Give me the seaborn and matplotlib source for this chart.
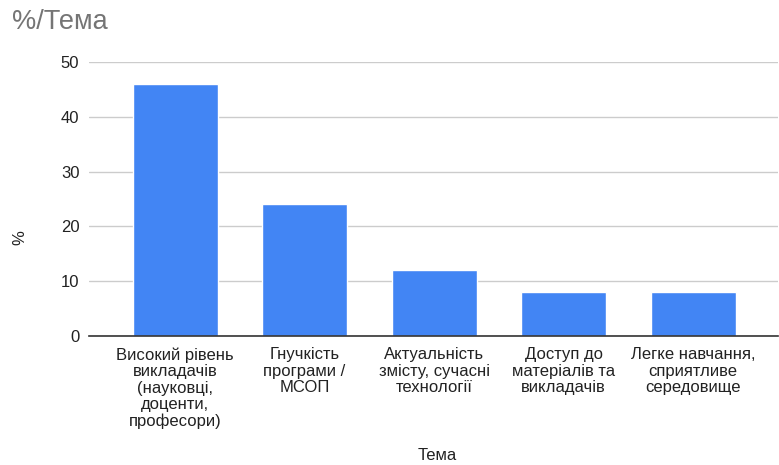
import pandas as pd
import matplotlib.pyplot as plt
import seaborn as sns

# chart data
topics = [
    "Високий рівень\nвикладачів\n(науковці,\nдоценти,\nпрофесори)",
    "Гнучкість\nпрограми /\nМСОП",
    "Актуальність\nзмісту, сучасні\nтехнології",
    "Доступ до\nматеріалів та\nвикладачів",
    "Легке навчання,\nсприятливе\nсередовище",
]
percent = [46, 24, 12, 8, 8]
y_ticks = [0, 10, 20, 30, 40, 50]

df = pd.DataFrame({"Тема": topics, "%": percent})

sns.set_style("white")
plt.rcParams["font.family"] = ["Liberation Sans", "DejaVu Sans"]

fig = plt.figure(figsize=(7.79, 4.65), dpi=100)
ax = fig.add_axes([0.1143, 0.2774, 0.8844, 0.5893])

sns.barplot(data=df, x="Тема", y="%", color="#4285F4", width=0.656,
            saturation=1, ax=ax, zorder=3)

ax.set_xlim(-0.664, 4.656)
ax.set_ylim(0, 50)
ax.set_yticks(y_ticks)
ax.yaxis.grid(True, color="#cccccc", linewidth=1, zorder=0)
ax.set_axisbelow(True)
for s in ["top", "right", "left"]:
    ax.spines[s].set_visible(False)
ax.spines["bottom"].set_color("#333333")
ax.spines["bottom"].set_linewidth(1.2)
ax.spines["bottom"].set_zorder(4)

ax.tick_params(axis="both", length=0, labelsize=12, labelcolor="#222222")
ax.tick_params(axis="x", pad=8)
ax.tick_params(axis="y", pad=7)
for lbl in ax.get_xticklabels():
    lbl.set_linespacing(1.13)
    lbl.set_verticalalignment("top")

ax.set_xlabel("Тема", fontsize=12, color="#222222")
ax.xaxis.set_label_coords(0.505, -0.41)
ax.set_ylabel("%", fontsize=12, color="#222222")
ax.yaxis.set_label_coords(-0.09, 0.36)

fig.text(0.015, 0.952, "%/Тема", fontsize=19.5, color="#757575", va="center", ha="left")

fig.savefig("out.png", dpi=100)
